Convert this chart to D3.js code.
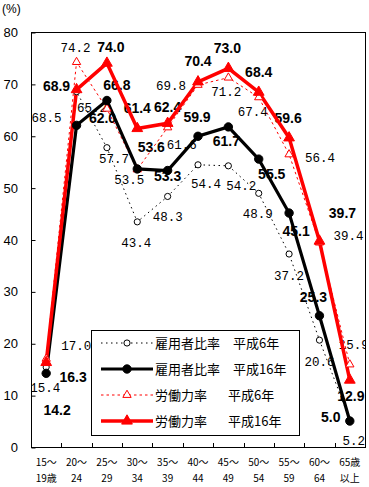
<!DOCTYPE html>
<html>
<head>
<meta charset="utf-8">
<script src="https://cdn.jsdelivr.net/npm/d3@7"></script>
<style>
  body { margin: 0; background: #fff; }
  svg { display: block; }
</style>
</head>
<body>
<div id="chart"></div>
<script>
// age groups (two text lines under the axis)
const ageTop = ["15〜", "20〜", "25〜", "30〜", "35〜", "40〜", "45〜", "50〜", "55〜", "60〜", "65歳"];
const ageBottom = ["19歳", "24", "29", "34", "39", "44", "49", "54", "59", "64", "以上"];
const yTicks = [0, 10, 20, 30, 40, 50, 60, 70, 80];

// 雇用者比率 / 労働力率 (%)
const empH6 = [15.4, 68.5, 57.7, 43.4, 48.3, 54.4, 54.2, 48.9, 37.2, 20.6, 5.2];
const empH16 = [14.2, 62.0, 66.8, 53.6, 53.3, 59.9, 61.7, 55.5, 45.1, 25.3, 5.0];
const labH6 = [17.0, 74.2, 65.2, 53.5, 61.6, 69.8, 71.2, 67.4, 56.4, 39.4, 15.9];
const labH16 = [16.3, 68.9, 74.0, 61.4, 62.4, 70.4, 73.0, 68.4, 59.6, 39.7, 12.9];

const seriesNames = ["雇用者比率", "雇用者比率", "労働力率", "労働力率"];
const seriesYears = ["平成6年", "平成16年", "平成6年", "平成16年"];

// where each value label sits relative to its point (dx to centre, dy to baseline)
const offEmpH6 = [[-1,25],[-30,30],[7,15],[-1,25],[0,25],[8,23],[13,24],[-1,25],[0,26],[0,26],[4,25]];
const offEmpH16 = [[11,42],[26,-2],[10,-10],[14,-17],[0,10],[-1,-14],[-2,19],[13,20],[7,23],[-6,-14],[-19,1]];
const offLabH6 = [[30,-9],[-1,-10],[-15,3],[-8,15],[14,22],[-27,5],[-2,18],[-6,19],[31,8],[29,-3],[4,-16]];
const offLabH16 = [[27,20],[-20,1],[4,-11],[0,-15],[0,-11],[0,-16],[-1,-15],[0,-15],[-1,-15],[23,-23],[1,21]];

const W = 369, H = 487;
const plot = { left: 31, right: 365, top: 32, bottom: 447 };

const svg = d3.select("#chart").append("svg")
    .attr("width", W)
    .attr("height", H);

const x = d3.scaleBand()
    .domain(d3.range(ageTop.length))
    .range([plot.left, plot.right]);
const cx = i => x(i) + x.bandwidth() / 2;

const y = d3.scaleLinear()
    .domain([0, 80])
    .range([plot.bottom, plot.top]);

svg.append("defs").append("clipPath")
    .attr("id", "plotclip")
    .append("rect")
    .attr("x", plot.left + 1)
    .attr("y", plot.top)
    .attr("width", plot.right - plot.left - 1)
    .attr("height", plot.bottom - plot.top);

// frame
svg.append("rect")
    .attr("x", plot.left + 0.5)
    .attr("y", plot.top + 0.5)
    .attr("width", plot.right - plot.left)
    .attr("height", plot.bottom - plot.top)
    .attr("fill", "none")
    .attr("stroke", "#000")
    .attr("stroke-width", 1);

// y-axis (ticks pointing inward)
const yAxis = svg.append("g")
    .attr("transform", `translate(${plot.left + 0.5}, 0.5)`)
    .call(d3.axisRight(y).tickValues(yTicks).tickSize(4).tickFormat(""));
yAxis.select(".domain").remove();

svg.append("g").selectAll("text")
    .data(yTicks)
    .join("text")
    .attr("x", 18)
    .attr("y", d => y(d) + 5)
    .attr("text-anchor", "end")
    .style("font-family", "Liberation Sans, Arial, sans-serif")
    .style("font-size", "13px")
    .text(d => d);

svg.append("text")
    .attr("x", 2)
    .attr("y", 13)
    .style("font-family", "Liberation Sans, Arial, sans-serif")
    .style("font-size", "12px")
    .text("(%)");

// x-axis: ticks at band edges, pointing up
const edges = d3.range(1, ageTop.length);
svg.append("g").selectAll("line")
    .data(edges)
    .join("line")
    .attr("x1", d => Math.round(x(d)) + 0.5)
    .attr("x2", d => Math.round(x(d)) + 0.5)
    .attr("y1", plot.bottom)
    .attr("y2", plot.bottom - 4)
    .attr("stroke", "#000");

const xl = svg.append("g")
    .style("font-family", "Noto Sans CJK JP, sans-serif")
    .style("font-size", "10px")
    .attr("text-anchor", "middle");
xl.selectAll(".top")
    .data(ageTop)
    .join("text")
    .attr("class", "top")
    .attr("x", (d, i) => cx(i))
    .attr("y", 466)
    .text(d => d);
xl.selectAll(".bot")
    .data(ageBottom)
    .join("text")
    .attr("class", "bot")
    .attr("x", (d, i) => cx(i))
    .attr("y", 482)
    .text(d => d);

// value labels (drawn under the lines)
const labelLayer = svg.append("g").attr("clip-path", "url(#plotclip)");
function drawLabels(values, offs, bold) {
    labelLayer.append("g")
        .selectAll("text")
        .data(values)
        .join("text")
        .attr("x", (d, i) => cx(i) + offs[i][0])
        .attr("y", (d, i) => y(d) + offs[i][1])
        .attr("text-anchor", "middle")
        .style("font-family", bold ? "Liberation Sans, Arial, sans-serif" : "Liberation Mono, monospace")
        .style("font-weight", bold ? "bold" : "normal")
        .style("font-size", bold ? "14px" : "12.5px")
        .text(d => d.toFixed(1));
}
drawLabels(empH6, offEmpH6, false);
drawLabels(labH6, offLabH6, false);
drawLabels(empH16, offEmpH16, true);
drawLabels(labH16, offLabH16, true);

// series styles
const styles = [
    { data: empH6, color: "#000", width: 1, dash: "1.5,3.5", symbol: d3.symbolCircle, size: 30, fill: "#fff" },
    { data: labH6, color: "#f00", width: 1, dash: "2.5,3", symbol: d3.symbolTriangle, size: 30, fill: "#fff" },
    { data: empH16, color: "#000", width: 3.2, dash: null, symbol: d3.symbolCircle, size: 55, fill: "#000" },
    { data: labH16, color: "#f00", width: 3.5, dash: null, symbol: d3.symbolTriangle, size: 50, fill: "#f00" }
];

const line = d3.line()
    .x((d, i) => cx(i))
    .y(d => y(d));

styles.forEach(s => {
    svg.append("path")
        .datum(s.data)
        .attr("fill", "none")
        .attr("stroke", s.color)
        .attr("stroke-width", s.width)
        .attr("stroke-dasharray", s.dash)
        .attr("d", line);
});
styles.forEach(s => {
    svg.append("g").selectAll("path")
        .data(s.data)
        .join("path")
        .attr("transform", (d, i) => `translate(${cx(i)}, ${y(d)})`)
        .attr("d", d3.symbol().type(s.symbol).size(s.size))
        .attr("fill", s.fill)
        .attr("stroke", s.color)
        .attr("stroke-width", 1);
});

// legend
const lg = svg.append("g");
lg.append("rect")
    .attr("x", 91.5)
    .attr("y", 330.5)
    .attr("width", 208)
    .attr("height", 105)
    .attr("fill", "#fff")
    .attr("stroke", "#000");

const order = [0, 2, 1, 3]; // 雇用6, 雇用16, 労働6, 労働16
order.forEach((si, row) => {
    const s = styles[si];
    const ly = 343 + row * 26;
    lg.append("line")
        .attr("x1", 101).attr("x2", 153)
        .attr("y1", ly).attr("y2", ly)
        .attr("stroke", s.color)
        .attr("stroke-width", s.width)
        .attr("stroke-dasharray", s.dash);
    lg.append("path")
        .attr("transform", `translate(127, ${ly})`)
        .attr("d", d3.symbol().type(s.symbol).size(s.size))
        .attr("fill", s.fill)
        .attr("stroke", s.color);
    lg.append("text")
        .attr("x", 155)
        .attr("y", ly + 5)
        .style("font-family", "Noto Sans CJK JP, sans-serif")
        .style("font-size", "13px")
        .text(seriesNames[row]);
    lg.append("text")
        .attr("x", row < 2 ? 233 : 228)
        .attr("y", ly + 5)
        .style("font-family", "Noto Sans CJK JP, sans-serif")
        .style("font-size", "13px")
        .text(seriesYears[row]);
});
</script>
</body>
</html>
